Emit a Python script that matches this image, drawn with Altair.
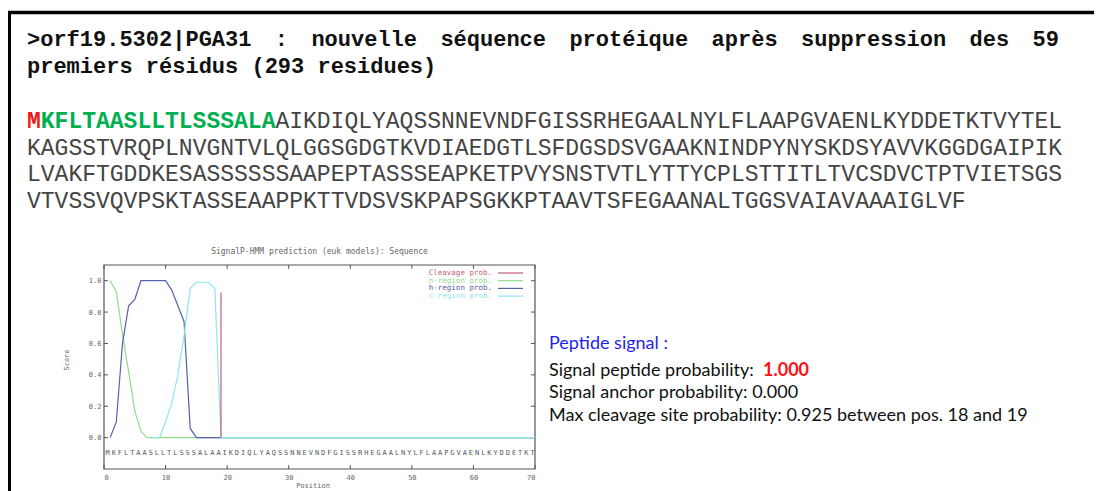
import altair as alt
import pandas as pd

# ---------------- text content ----------------
header_words = [">orf19.5302|PGA31", ":", "nouvelle", "séquence", "protéique",
                "après", "suppression", "des", "59"]
header_line2 = "premiers résidus (293 residues)"
seq_start = "M"
seq_signal = "KFLTAASLLTLSSSALA"
seq_lines = [
    "AIKDIQLYAQSSNNEVNDFGISSRHEGAALNYLFLAAPGVAENLKYDDETKTVYTEL",
    "KAGSSTVRQPLNVGNTVLQLGGSGDGTKVDIAEDGTLSFDGSDSVGAAKNINDPYNYSKDSYAVVKGGDGAIPIK",
    "LVAKFTGDDKESASSSSSSAAPEPTASSSEAPKETPVYSNSTVTLYTTYCPLSTTITLTVCSDVCTPTVIETSGS",
    "VTVSSVQVPSKTASSEAAPPKTTVDSVSKPAPSGKKPTAAVTSFEGAANALTGGSVAIAVAAAIGLVF",
]
info_title = "Peptide signal :"
info_line1 = "Signal peptide probability:"
info_value1 = "1.000"
info_line2 = "Signal anchor probability: 0.000"
info_line3 = "Max cleavage site probability: 0.925 between pos. 18 and 19"

# ---------------- SignalP-HMM plot data ----------------
plot_title = "SignalP-HMM prediction (euk models): Sequence"
x_label = "Position"
y_label = "Score"
series_names = ["Cleavage prob.", "n-region prob.", "h-region prob.", "c-region prob."]
series_colors = ["#c0607a", "#8fdc8f", "#5562a8", "#8ee6ee"]

n_pos = [1, 2, 3, 4, 5, 6, 7, 70]
n_val = [1.0, 0.93, 0.66, 0.42, 0.17, 0.04, 0.0, 0.0]

h_pos = [1, 2, 3, 4, 5, 6, 10, 11, 12, 13, 14, 15, 70]
h_val = [0.0, 0.1, 0.6, 0.84, 0.88, 1.0, 1.0, 0.94, 0.84, 0.74, 0.06, 0.0, 0.0]

c_pos = [8, 9, 10, 11, 12, 13, 14, 15, 17, 18, 19, 70]
c_val = [0.0, 0.0, 0.1, 0.22, 0.4, 0.65, 0.95, 0.99, 0.99, 0.95, 0.0, 0.0]

cleav_pos = [19]
cleav_val = [0.925]

x_ticks = [0, 10, 20, 30, 40, 50, 60, 70]
y_ticks = [0.0, 0.2, 0.4, 0.6, 0.8, 1.0]
x_domain = [0, 70]
y_domain = [-0.2, 1.1]
residue_row = -0.1

# ---------------- layout ----------------
W, H = 1086, 475
PL, PR, PT, PB = 96, 527, 257, 461      # small plot box (pixels)
GREY = "#666666"
MONO = "Liberation Mono"
SMALL = "DejaVu Sans Mono"
SANS = "Lato"

one = pd.DataFrame({"k": [0]})


def txt(text, x, y, **kw):
    props = dict(align="left", baseline="alphabetic")
    props.update(kw)
    return alt.Chart(pd.DataFrame({"t": [text]})).mark_text(**props).encode(
        x=alt.value(x), y=alt.value(y), text="t:N")


layers = []

# frame of the text box (top and left edges visible)
layers.append(alt.Chart(one).mark_rule(color="black", strokeWidth=3.5).encode(
    x=alt.value(-2), x2=alt.value(W + 2), y=alt.value(4.5)))
layers.append(alt.Chart(one).mark_rule(color="black", strokeWidth=4).encode(
    x=alt.value(1), y=alt.value(3), y2=alt.value(H + 10)))

# header, justified first line
hsize = 22
cw = 0.6 * hsize
n_chars = sum(len(w) for w in header_words)
gap = (1032 - n_chars * cw) / (len(header_words) - 1)
cur = 19
for w in header_words:
    layers.append(txt(w, cur, 38, font=MONO, fontWeight="bold", fontSize=hsize, color="#111111"))
    cur += len(w) * cw + gap
layers.append(txt(header_line2, 19, 65, font=MONO, fontWeight="bold", fontSize=hsize, color="#111111"))

# sequence
ssize = 23
scw = 0.6 * ssize
layers.append(txt(seq_start, 19, 120, font=MONO, fontWeight="bold", fontSize=ssize, color="#ee1c1c"))
layers.append(txt(seq_signal, 19 + scw, 120, font=MONO, fontWeight="bold", fontSize=ssize, color="#00b050"))
layers.append(txt(seq_lines[0], 19 + scw * (1 + len(seq_signal)), 120, font=MONO, fontSize=ssize, color="#444444"))
for i, line in enumerate(seq_lines[1:]):
    layers.append(txt(line, 19, 146.5 + 26.8 * i, font=MONO, fontSize=ssize, color="#444444"))

# info block
isz = 18
layers.append(txt(info_title, 541, 341, font=SANS, fontSize=isz, color="#1f1fee"))
layers.append(txt(info_line1, 541, 367.5, font=SANS, fontSize=isz, color="#111111"))
layers.append(txt(info_value1, 755, 367.5, font=SANS, fontSize=isz, fontWeight="bold", color="#ff1111"))
layers.append(txt(info_line2, 541, 390, font=SANS, fontSize=isz, color="#111111"))
layers.append(txt(info_line3, 541, 412.5, font=SANS, fontSize=isz, color="#111111"))

# ---------------- small SignalP plot ----------------
xs = alt.Scale(domain=x_domain, range=[PL, PR], nice=False, zero=False)
ys = alt.Scale(domain=y_domain, range=[PB, PT], nice=False, zero=False)

x_axis = alt.Axis(values=x_ticks, domain=False, ticks=False, tickSize=0, grid=False,
                  labelFont=SMALL, labelFontSize=7, labelColor=GREY, labelPadding=4,
                  offset=-(H - PB), title=None)
y_axis = alt.Axis(values=y_ticks, format=".1f", domain=False, ticks=False, tickSize=0, grid=False,
                  labelFont=SMALL, labelFontSize=7, labelColor=GREY, labelPadding=3,
                  offset=-PL, title=None)

frame_df = pd.DataFrame({"x0": [x_domain[0]], "x1": [x_domain[1]],
                         "y0": [y_domain[0]], "y1": [y_domain[1]]})
frame = alt.Chart(frame_df).mark_rect(fillOpacity=0, stroke="#555555", strokeWidth=1.2).encode(
    x=alt.X("x0:Q", scale=xs, axis=x_axis), x2="x1:Q",
    y=alt.Y("y0:Q", scale=ys, axis=y_axis), y2="y1:Q")
layers.append(frame)

tly = 0.025
tlx = 0.65
tick_layers = [
    (pd.DataFrame({"t": x_ticks, "a": y_domain[0], "b": y_domain[0] + tly}), "x"),
    (pd.DataFrame({"t": x_ticks, "a": y_domain[1], "b": y_domain[1] - tly}), "x"),
    (pd.DataFrame({"t": y_ticks, "a": x_domain[0], "b": x_domain[0] + tlx}), "y"),
    (pd.DataFrame({"t": y_ticks, "a": x_domain[1], "b": x_domain[1] - tlx}), "y"),
]
for df, ori in tick_layers:
    if ori == "x":
        enc = dict(x=alt.X("t:Q", scale=xs), y=alt.Y("a:Q", scale=ys), y2="b:Q")
    else:
        enc = dict(y=alt.Y("t:Q", scale=ys), x=alt.X("a:Q", scale=xs), x2="b:Q")
    layers.append(alt.Chart(df).mark_rule(color="#555555", strokeWidth=1).encode(**enc))

residues = (seq_start + seq_signal + seq_lines[0] + seq_lines[1])[:70]
res_df = pd.DataFrame({"pos": list(range(1, 71)), "aa": list(residues), "row": residue_row})
layers.append(alt.Chart(res_df).mark_text(font=SMALL, fontSize=7, color="#555555", dx=-2.5,
                                          baseline="middle").encode(
    x=alt.X("pos:Q", scale=xs), y=alt.Y("row:Q", scale=ys), text="aa:N"))


def curve(pos, val, color):
    df = pd.DataFrame({"pos": pos, "val": val})
    return alt.Chart(df).mark_line(color=color, strokeWidth=1.2).encode(
        x=alt.X("pos:Q", scale=xs), y=alt.Y("val:Q", scale=ys))


layers.append(curve(n_pos, n_val, series_colors[1]))
layers.append(curve(h_pos, h_val, series_colors[2]))
layers.append(curve(c_pos, c_val, series_colors[3]))
cl_df = pd.DataFrame({"pos": cleav_pos, "val": cleav_val, "base": [0.0] * len(cleav_pos)})
layers.append(alt.Chart(cl_df).mark_rule(color=series_colors[0], strokeWidth=1.2).encode(
    x=alt.X("pos:Q", scale=xs), y=alt.Y("val:Q", scale=ys), y2="base:Q"))

# plot title and axis titles
layers.append(txt(plot_title, (PL + PR) / 2, 244, font=SMALL, fontSize=8, color=GREY,
                  align="center", baseline="middle"))
layers.append(txt(y_label, 59, 352, font=SMALL, fontSize=7, color=GREY, align="center",
                  baseline="middle", angle=270))
layers.append(txt(x_label, 305, 478, font=SMALL, fontSize=7, color=GREY, align="center",
                  baseline="middle"))

# manual key
for i, (name, col) in enumerate(zip(series_names, series_colors)):
    yy = 265 + 7.7 * i
    layers.append(txt(name, 484, yy, font=SMALL, fontSize=7.5, color=col, align="right",
                      baseline="middle"))
    layers.append(alt.Chart(one).mark_rule(color=col, strokeWidth=1.2).encode(
        x=alt.value(490), x2=alt.value(515), y=alt.value(yy)))

chart = alt.layer(*layers).properties(
    width=W, height=H,
    autosize=alt.AutoSizeParams(type="none"),
    padding={"left": 0, "top": 0, "right": 0, "bottom": 8},
    background="white",
).configure_view(strokeWidth=0)

chart.save("out.html", embed_options={"renderer": "svg", "actions": False})
